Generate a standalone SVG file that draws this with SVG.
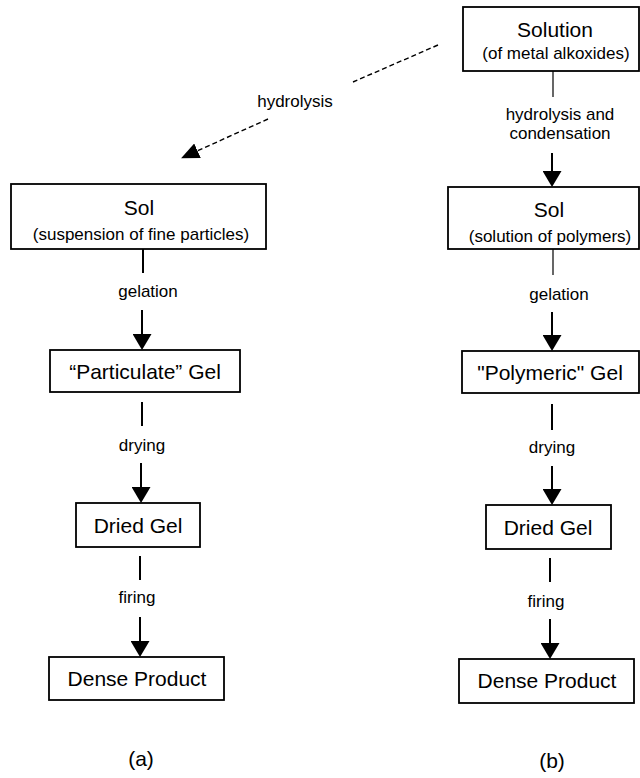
<svg xmlns="http://www.w3.org/2000/svg" width="640" height="778" viewBox="0 0 640 778">
<style>
.box{fill:#fff;stroke:#000;stroke-width:1.8}
.t{font-family:"Liberation Sans",Arial,sans-serif;font-size:21px;fill:#000;text-anchor:middle}
.s{font-family:"Liberation Sans",Arial,sans-serif;font-size:17px;fill:#000;text-anchor:middle}
.ln{stroke:#000;stroke-width:2;fill:none}
.thin{stroke:#000;stroke-width:1.2;fill:none}
.dash{stroke:#000;stroke-width:1.4;fill:none;stroke-dasharray:5 3}
</style>
<defs>
<marker id="ah" viewBox="0 0 16 19" refX="0" refY="9.5" markerWidth="16" markerHeight="19" markerUnits="userSpaceOnUse" orient="auto">
<path d="M0,0 L16,9.5 L0,19 Z" fill="#000"/>
</marker>
<marker id="ah2" viewBox="0 0 18 16" refX="0" refY="8" markerWidth="18" markerHeight="16" markerUnits="userSpaceOnUse" orient="auto">
<path d="M0,0 L18,8 L0,16 Z" fill="#000"/>
</marker>
</defs>
<rect width="640" height="778" fill="#fff"/>

<g id="connectors">
<!-- dashed hydrolysis -->
<line class="dash" x1="438" y1="45" x2="353" y2="82"/>
<line class="dash" x1="268" y1="119" x2="197.5" y2="150.8" marker-end="url(#ah2)"/>
<text class="s" x="295" y="107">hydrolysis</text>

<!-- left column -->
<line class="ln" x1="143" y1="249" x2="143" y2="273"/>
<text class="s" x="148" y="297">gelation</text>
<line class="ln" x1="142" y1="310" x2="142" y2="334" marker-end="url(#ah)"/>

<line class="ln" x1="142" y1="402" x2="142" y2="426"/>
<text class="s" x="142" y="451">drying</text>
<line class="ln" x1="141" y1="463" x2="141" y2="487" marker-end="url(#ah)"/>

<line class="ln" x1="140" y1="556" x2="140" y2="580"/>
<text class="s" x="137" y="603">firing</text>
<line class="ln" x1="140" y1="617" x2="140" y2="641" marker-end="url(#ah)"/>

<!-- right column -->
<line class="thin" x1="553" y1="71" x2="553" y2="97"/>
<text class="s" x="560" y="120">hydrolysis and</text>
<text class="s" x="560" y="139">condensation</text>
<line class="ln" x1="552" y1="153" x2="552" y2="171" marker-end="url(#ah)"/>

<line class="thin" x1="553" y1="249" x2="553" y2="275"/>
<text class="s" x="559" y="300">gelation</text>
<line class="ln" x1="552" y1="312" x2="552" y2="335" marker-end="url(#ah)"/>

<line class="ln" x1="552" y1="404" x2="552" y2="430"/>
<text class="s" x="552" y="453">drying</text>
<line class="ln" x1="552" y1="466" x2="552" y2="489" marker-end="url(#ah)"/>

<line class="ln" x1="550" y1="558" x2="550" y2="582"/>
<text class="s" x="546" y="607">firing</text>
<line class="ln" x1="550" y1="619" x2="550" y2="643" marker-end="url(#ah)"/>
</g>

<g id="sol-a">
<rect class="box" x="11" y="184" width="255" height="65"/>
<text class="t" x="139" y="215">Sol</text>
<text class="s" x="141" y="240">(suspension of fine particles)</text>
</g>
<g id="gel-a">
<rect class="box" x="50" y="350" width="190" height="42"/>
<text class="t" x="145" y="379">“Particulate” Gel</text>
</g>
<g id="dried-a">
<rect class="box" x="76" y="503" width="124" height="44"/>
<text class="t" x="138" y="533">Dried Gel</text>
</g>
<g id="dense-a">
<rect class="box" x="49" y="657" width="175" height="43"/>
<text class="t" x="137" y="686">Dense Product</text>
</g>
<g id="label-a">
<text class="t" x="141" y="766">(a)</text>
</g>

<g id="solution-b">
<rect class="box" x="463" y="7" width="176" height="64"/>
<text class="t" x="555" y="37">Solution</text>
<text class="s" x="556" y="59">(of metal alkoxides)</text>
</g>
<g id="sol-b">
<rect class="box" x="448" y="187" width="191" height="62"/>
<text class="t" x="549" y="217">Sol</text>
<text class="s" x="550" y="242">(solution of polymers)</text>
</g>
<g id="gel-b">
<rect class="box" x="462" y="351" width="177" height="42"/>
<text class="t" x="550" y="380">"Polymeric" Gel</text>
</g>
<g id="dried-b">
<rect class="box" x="486" y="505" width="125" height="44"/>
<text class="t" x="548" y="535">Dried Gel</text>
</g>
<g id="dense-b">
<rect class="box" x="459" y="659" width="175" height="44"/>
<text class="t" x="547" y="688">Dense Product</text>
</g>
<g id="label-b">
<text class="t" x="552" y="768">(b)</text>
</g>
</svg>
